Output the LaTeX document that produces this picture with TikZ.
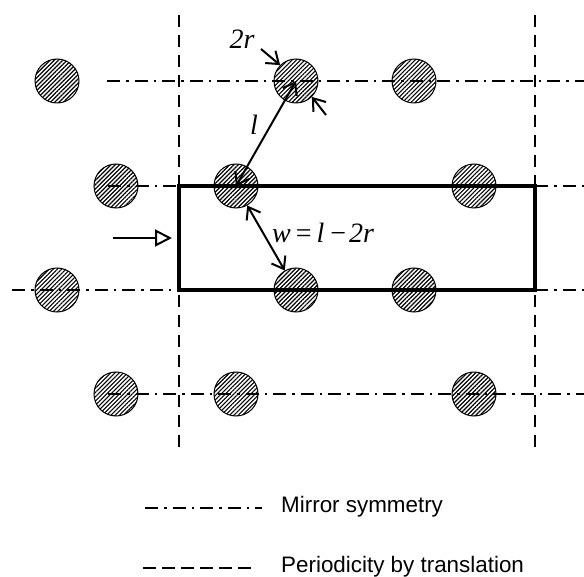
\documentclass[tikz,border=0pt]{standalone}
\usepackage{fontspec}
\setmainfont{Liberation Sans}
\newfontfamily\labelfont{Liberation Serif}
\usetikzlibrary{arrows.meta,patterns.meta,positioning}
\tikzset{
  rod/.style={draw,circle,minimum size=44pt,inner sep=0pt,line width=1pt,
    pattern={Lines[angle=45,distance=3pt,line width=1.15pt]}},
  mirror/.style={line width=2pt,dash pattern=on 13pt off 6pt on 2.5pt off 6pt},
  period/.style={line width=2pt,dash pattern=on 12pt off 8pt},
  barb/.tip={Straight Barb[length=11pt,width=16pt,line width=2pt]},
  gap/.style={line width=2pt,barb-barb},
  pointer/.style={line width=2pt,-barb},
  tag/.style={font=\labelfont\itshape\fontsize{28}{28}\selectfont,inner sep=0pt},
  legend/.style={font=\fontsize{22.4}{22.4}\selectfont,inner sep=0pt,anchor=west}
}
\begin{document}
\begin{tikzpicture}[x=1pt,y=-1pt]
	\useasboundingbox (0,0) rectangle (584,577);
	% rods
	\foreach \x [count=\xi] in {57,296,414}{%
	  \node[rod] (A-\xi) at (\x,81) {};
	  \node[rod] (C-\xi) at (\x,290) {};
	}
	\foreach \x [count=\xi] in {116,236,474}{%
	  \node[rod] (B-\xi) at (\x,186) {};
	  \node[rod] (D-\xi) at (\x,394) {};
	}
	% symmetry lines
	\coordinate (m1a) at (107,81);  \coordinate (m1b) at (584,81);
	\coordinate (m2a) at (108,186); \coordinate (m2b) at (179,186);
	\coordinate (m2c) at (535,186); \coordinate (m2d) at (584,186);
	\coordinate (m3a) at (12,290);  \coordinate (m3b) at (179,290);
	\coordinate (m3c) at (535,290); \coordinate (m3d) at (584,290);
	\coordinate (m4a) at (108,394); \coordinate (m4b) at (584,394);
	\draw[mirror] (m1a) -- (m1b);
	\draw[mirror] (m2a) -- (m2b);
	\draw[mirror] (m2c) -- (m2d);
	\draw[mirror] (m3a) -- (m3b);
	\draw[mirror] (m3c) -- (m3d);
	\draw[mirror] (m4a) -- (m4b);
	% periodic boundaries
	\coordinate (p1a) at (179,15);  \coordinate (p1b) at (179,454);
	\coordinate (p2a) at (535,15);  \coordinate (p2b) at (535,449);
	\draw[period] (p1a) -- (p1b);
	\draw[period] (p2a) -- (p2b);
	% domain
	\coordinate (r1) at (179,186); \coordinate (r2) at (535,290);
	\draw[line width=3.2pt] (r1) rectangle (r2);
	% inflow
	\coordinate (in1) at (113,238); \coordinate (in2) at (172,238);
	\draw[line width=2pt,-{Triangle[open,length=17pt,width=17pt]}] (in1) -- (in2);
	% dimensions
	\draw[gap] (B-2.center) -- (A-2.center);
	\draw[gap] (B-2.300) -- (C-2.120);
	\coordinate (d1) at (261,49);  \coordinate (d2) at (326,115);
	\draw[pointer] (d1) -- (A-2.135);
	\draw[pointer] (d2) -- (A-2.315);
	\node[tag] (tagr) at (242,39) {2r};
	\node[tag] (tagl) at (254,125) {l};
	\node[tag,anchor=west] (tagw) at (272,233) {w\kern5pt{\normalfont\labelfont=}\kern5pt l\kern6pt{\normalfont\labelfont−}\kern3pt 2r};
	% legend
	\coordinate (l1a) at (145,508); \coordinate (l1b) at (262,508);
	\coordinate (l2a) at (143,568); \coordinate (l2b) at (253,568);
	\draw[mirror,line width=1.4pt] (l1a) -- (l1b);
	\draw[line width=1.4pt,dash pattern=on 13pt off 6pt] (l2a) -- (l2b);
	\node[legend] (t1) at (281,507) {Mirror symmetry};
	\node[legend] (t2) at (281,567) {Periodicity by translation};
\end{tikzpicture}
\end{document}
